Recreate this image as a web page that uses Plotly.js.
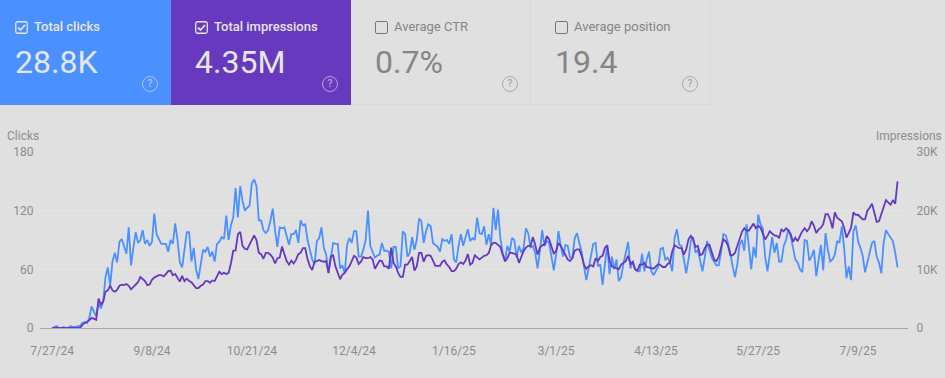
<!DOCTYPE html>
<html><head><meta charset="utf-8">
<script src="https://cdn.plot.ly/plotly-3.0.1.min.js"></script>
<style>
html,body{margin:0;padding:0;background:#e0e0e0;width:945px;height:378px;overflow:hidden;font-family:Roboto,sans-serif}
#chart{position:absolute;left:0;top:0;width:945px;height:378px}
.card{position:absolute;top:0;height:105px;box-sizing:border-box}
.lab{position:absolute;left:34px;top:19px;font-size:13px;line-height:16px;white-space:nowrap}
.val{position:absolute;left:15px;top:43px;font-size:32px;line-height:38px;white-space:nowrap}
.box{position:absolute;left:15px;top:21px;width:13px;height:13px;box-sizing:border-box;border-radius:2px}
.q{position:absolute;left:142px;top:76px;width:16px;height:16px;box-sizing:border-box;border-radius:50%;font-size:11px;line-height:13px;text-align:center;border-width:1.5px;border-style:solid;font-weight:500}
</style></head><body>
<div id="chart"></div>
<div id="cards"></div>
<script>
var clicks = [0,1,2,0,0,1,0,0,2,1,1,2,2,5,6,5,10,22,17,12,25,20,27,52,62,43,68,77,67,88,91,83,76,103,64,82,98,87,90,100,86,90,84,88,117,96,90,86,86,86,78,90,86,107,90,67,62,82,98,98,68,82,60,50,65,80,78,83,73,78,68,86,88,93,91,115,90,105,113,143,113,145,130,120,123,125,148,152,145,110,110,100,97,100,110,122,100,83,103,102,103,95,85,96,96,100,87,110,105,106,90,
80,70,65,89,92,103,82,75,56,73,87,86,86,61,64,56,85,92,87,99,99,73,73,80,90,120,84,78,72,74,75,87,79,79,78,61,83,83,61,63,99,96,73,77,93,80,90,112,109,87,99,106,104,87,85,83,78,91,89,90,86,96,70,67,84,96,84,94,101,89,92,90,113,97,96,104,85,96,85,123,100,121,92,77,68,84,78,92,90,72,84,77,82,102,97,82,84,77,61,78,100,84,89,87,73,59,75,99,84,73,85,84,72,72,92,97,87,78,63,49,61,73,86,87,63,65,44,65,85,55,73,60,70,48,52,66,78,88,
61,68,60,58,58,76,58,70,78,58,54,58,63,81,82,70,72,67,58,92,101,85,84,70,56,70,89,93,77,80,67,58,72,89,80,72,68,64,64,77,96,95,87,77,63,52,65,85,90,79,106,79,60,83,72,116,106,102,73,58,78,93,77,87,68,68,84,90,101,94,82,70,67,60,57,90,89,69,73,80,53,70,85,59,97,80,68,70,75,89,87,104,82,51,63,49,99,105,89,82,74,57,67,78,87,89,73,67,56,87,100,96,92,89,77,62];
var impressions = [0,0,0,0,0,0,0,0,0,0,0,0,0,500,900,1000,1300,1700,1600,1400,5000,4000,4500,6200,6400,7200,6400,6200,6500,7200,7400,7300,7500,7200,6600,7000,7400,7800,8700,8300,8000,7300,7400,8200,8600,8800,9000,9000,8800,9200,9700,9800,9000,9200,8600,7900,8900,8000,8400,8000,7800,7200,6800,6800,7200,7400,8000,8000,7700,8100,8000,8800,9600,9200,9400,9200,9400,11000,13200,13200,16000,16400,14000,13500,13400,14200,15000,15800,15000,12800,12600,11800,12800,12800,12500,12000,11000,11900,12000,13900,12600,11400,10800,11500,11000,11600,12600,12800,13600,13600,11700,
10500,9900,11300,11400,11600,11400,11300,11400,9400,12200,12400,10500,9400,8300,9100,9400,10000,10500,11400,12300,12000,10900,11300,12100,11900,11900,12100,11700,10100,10900,11500,11400,10500,10500,10100,13700,11100,10500,9400,8700,8700,10800,10800,11400,12100,9800,10500,12800,12800,11300,12300,12400,12300,11500,10600,10600,10600,11300,11500,10800,10400,9700,9700,10100,10900,11200,10900,11500,12600,10800,11100,12400,12000,11700,12000,12300,12400,12800,14100,14500,14500,14200,13800,12500,11400,11900,12800,12800,12600,12500,11100,12300,13100,13700,14000,14000,15500,14200,12500,13700,14100,14200,15700,15100,13700,12700,13100,14500,14000,13200,12300,11700,11400,11900,13200,13400,13400,12300,10800,10100,10500,10700,10500,11900,11400,12100,12300,13700,14100,11400,10500,10300,10100,10000,10800,11100,11400,12300,
10900,11300,10000,9800,10800,10800,11100,10400,10300,10300,10100,10500,10900,10700,10400,10400,10900,11100,13100,14100,13800,13600,13600,12500,13400,15100,15700,15100,13800,14000,12400,12600,13600,14200,14200,12800,11700,11400,12100,13700,15100,14800,14000,12400,12400,12800,14000,14800,16400,17000,16600,16600,17100,17800,17000,17400,17100,16000,15100,15700,16500,16100,15800,15700,15400,16800,16500,17000,16600,16000,14700,15400,14800,15700,16500,17000,16500,17000,18200,17400,16200,16800,17100,17700,19400,19400,18500,17000,19700,18800,18500,18200,17100,15400,16200,17100,19700,19300,19300,18900,18500,18500,20000,20500,21200,19700,18100,18200,19400,20200,21800,21400,21000,21800,21200,25000];
var tickDates = ["2024-07-27","2024-09-08","2024-10-21","2024-12-04","2025-01-16","2025-03-01","2025-04-13","2025-05-27","2025-07-09"];
var tickLabels = ["7/27/24","9/8/24","10/21/24","12/4/24","1/16/25","3/1/25","4/13/25","5/27/25","7/9/25"];
var cardNames = ["Total clicks","Total impressions","Average CTR","Average position"];
var cardValues = ["28.8K","4.35M","0.7%","19.4"];
var firstDate = Date.UTC(2024,6,27), DAY = 86400000;
function dates(arr){return arr.map(function(_,i){return new Date(firstDate+i*DAY).toISOString().slice(0,10);});}
var blue="#4a90ff", purple="#6438bf", grey="#8c8c8c";
var traces=[
 {x:dates(impressions),y:impressions,yaxis:"y2",type:"scatter",mode:"lines",line:{color:purple,width:1.8},name:"Impressions",hoverinfo:"skip"},
 {x:dates(clicks),y:clicks,yaxis:"y",type:"scatter",mode:"lines",line:{color:blue,width:1.8},name:"Clicks",hoverinfo:"skip"}
];
var f={family:"Roboto, sans-serif",size:12,color:grey};
var layout={width:945,height:378,autosize:false,paper_bgcolor:"#e0e0e0",plot_bgcolor:"#e0e0e0",showlegend:false,
 margin:{l:40,r:37,t:152,b:50,pad:0},font:f,
 xaxis:{type:"date",range:[new Date(firstDate-5.2*DAY).toISOString(),new Date(firstDate+368.5*DAY).toISOString()],tickmode:"array",tickvals:tickDates,ticktext:tickLabels,showgrid:false,zeroline:false,showline:true,linecolor:"#a6a6a6",linewidth:1,ticks:"outside",ticklen:12,tickcolor:"rgba(0,0,0,0)",tickfont:f},
 yaxis:{range:[0,180],tickmode:"array",tickvals:[0,60,120,180],ticktext:["0","60","120","180"],gridcolor:"#e6e6e6",gridwidth:1,zeroline:false,ticks:"outside",ticklen:3,tickcolor:"rgba(0,0,0,0)",tickfont:f},
 yaxis2:{range:[0,30000],overlaying:"y",side:"right",tickmode:"array",tickvals:[0,10000,20000,30000],ticktext:["0","10K","20K","30K"],showgrid:false,zeroline:false,ticks:"outside",ticklen:5,tickcolor:"rgba(0,0,0,0)",tickfont:f},
 annotations:[
  {xref:"paper",yref:"paper",x:-0.0407,y:1.0886,xanchor:"left",yanchor:"middle",text:"Clicks",showarrow:false,font:f},
  {xref:"paper",yref:"paper",x:1.0418,y:1.0886,xanchor:"right",yanchor:"middle",text:"Impressions",showarrow:false,font:f}
 ]};
Plotly.newPlot("chart",traces,layout,{displayModeBar:false,staticPlot:true});

var lefts=[0,171,351,531],widths=[171,180,180,180],fills=[blue,"#6639bf",null,null];
var html="";
cardNames.forEach(function(n,i){
 var on=!!fills[i];
 var fg=on?"#e6e6e6":"#858585";
 var st="left:"+lefts[i]+"px;width:"+widths[i]+"px;"+(on?"background:"+fills[i]+";":"border-right:1px solid #d8d8d8;border-bottom:1px solid #d8d8d8;");
 var dx=i==0?0:9;
 var box=on
  ?'<svg class="box" style="left:'+(15+dx)+'px" viewBox="0 0 13 13"><rect x="0.75" y="0.75" width="11.5" height="11.5" rx="1.5" fill="none" stroke="'+fg+'" stroke-width="1.3"/><path d="M3 6.6 L5.5 9 L10 4" fill="none" stroke="'+fg+'" stroke-width="1.8"/></svg>'
  :'<div class="box" style="left:'+(15+dx)+'px;border:1.5px solid #777"></div>';
 var qc=on?"rgba(230,230,230,.6)":"#aaaaaa";
 html+='<div class="card" style="'+st+'">'+box+
  '<div class="lab" style="left:'+(34+dx)+'px;color:'+fg+';font-weight:'+(on?500:400)+'">'+n+'</div>'+
  '<div class="val" style="left:'+(15+dx)+'px;color:'+fg+'">'+cardValues[i]+'</div>'+
  '<div class="q" style="left:'+(142+dx)+'px;color:'+qc+';border-color:'+qc+'">?</div></div>';
});
document.getElementById("cards").innerHTML=html;
</script>
</body></html>
